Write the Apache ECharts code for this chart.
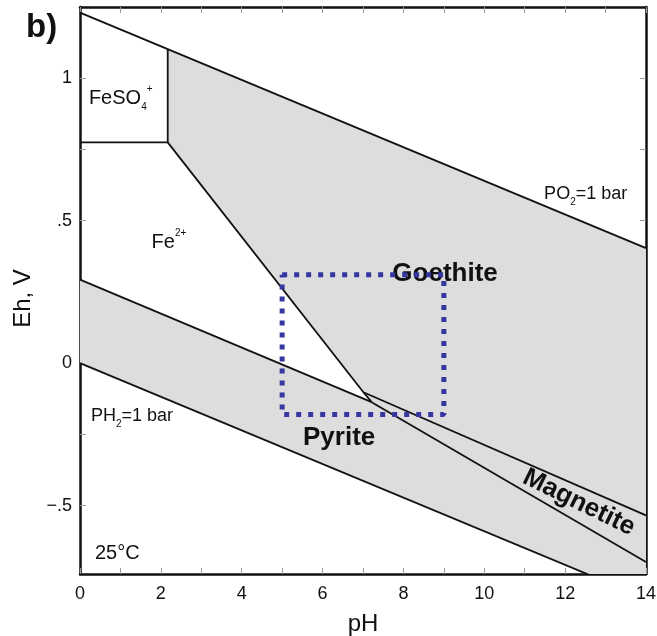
<!DOCTYPE html>
<html>
<head>
<meta charset="utf-8">
<script src="https://cdn.jsdelivr.net/npm/echarts@6/dist/echarts.min.js"></script>
<style>
  html, body { margin: 0; padding: 0; background: #fff; }
  #chart { width: 657px; height: 636px; }
</style>
</head>
<body>
<div id="chart"></div>
<script>
// axis ticks and labels
var phTicks = [0, 1, 2, 3, 4, 5, 6, 7, 8, 9, 10, 11, 12, 13, 14]
var phLabels = [0, 2, 4, 6, 8, 10, 12, 14]
var ehTicks = [-0.5, -0.25, 0, 0.25, 0.5, 0.75, 1]
var ehLabels = [-0.5, 0, 0.5, 1]

// field boundaries, [pH, Eh]
var o2Line = [[0, 1.23], [14, 0.404]]
var h2Line = [[0, 0], [14, -0.826]]
var feso4Edge = [[0, 0.775], [2.17, 0.775], [2.17, 1.102]]
var fe2GoethiteEdge = [[2.17, 0.775], [7.01, -0.102], [7.215, -0.137]]
var pyriteTop = [[0, 0.293], [7.215, -0.137]]
var magnetiteTop = [[7.01, -0.102], [14, -0.534]]
var magnetiteBottom = [[7.215, -0.137], [14, -0.698]]
// shaded (solid phases) area
var solidArea = [[2.17, 1.102], [14, 0.404], [14, -0.826], [0, 0], [0, 0.293], [7.215, -0.137], [2.17, 0.775]]
// dotted window
var windowBox = [[5, 0.31], [9, 0.31], [9, -0.18], [5, -0.18], [5, 0.31]]

// field labels
var labelAnchors = [
  { at: [0.22, 0.93], text: '{c|FeSO}{sub|4}{sup|+}', pos: 'right' },
  { at: [1.77, 0.425], text: '{c|Fe}{sup|2+}', pos: 'right' },
  { at: [11.48, 0.594], text: '{a|PO}{sub|2}{a|=1 bar}', pos: 'right' },
  { at: [0.27, -0.187], text: '{a|PH}{sub|2}{a|=1 bar}', pos: 'right' },
  { at: [0.37, -0.668], text: '{c|25°C}', pos: 'right' },
  { at: [9.03, 0.315], text: '{b|Goethite}', pos: 'inside' },
  { at: [6.41, -0.262], text: '{b|Pyrite}', pos: 'inside' },
  { at: [12.34, -0.489], text: '{b|Magnetite}', pos: 'inside', rotate: -26 }
]

var font = '"Liberation Sans", Arial, Helvetica, sans-serif'
var ink = '#111'

var richStyle = {
  a: { fontSize: 18, lineHeight: 26, color: ink, fontFamily: font },
  c: { fontSize: 20, lineHeight: 28, color: ink, fontFamily: font },
  sub: { fontSize: 10, lineHeight: 10, verticalAlign: 'bottom', color: ink, fontFamily: font },
  sup: { fontSize: 10, lineHeight: 14, verticalAlign: 'top', color: ink, fontFamily: font },
  b: { fontSize: 26, fontWeight: 'bold', color: ink, fontFamily: font }
}

var fmtEh = function(v) {
  if (v === 0) return '0'
  if (v === 1) return '1'
  if (v === 0.5) return '.5'
  if (v === -0.5) return '\u2212.5'
  return ''
}

var tickStyle = { show: true, inside: true, length: 6, lineStyle: { color: '#999', width: 1 } }
var frameLine = { show: true, onZero: false, lineStyle: { color: ink, width: 2.5 } }

var lineSeries = function(data) {
  return {
    type: 'line',
    data: data,
    symbol: 'none',
    silent: true,
    z: 3,
    lineStyle: { color: ink, width: 1.8 }
  }
}

var option = {
  animation: false,
  backgroundColor: '#fff',
  title: {
    text: 'b)',
    left: 26,
    top: 11,
    padding: 0,
    textStyle: { fontSize: 33, fontWeight: 'bold', color: ink, fontFamily: font }
  },
  grid: { left: 80, right: 11, top: 7, bottom: 62, outerBoundsMode: 'none', containLabel: false },
  xAxis: [{
    type: 'value', min: 0, max: 14, position: 'bottom',
    name: 'pH', nameLocation: 'middle', nameGap: 38,
    nameTextStyle: { fontSize: 24, color: ink, fontFamily: font },
    axisLine: frameLine,
    axisTick: Object.assign({ customValues: phTicks }, tickStyle),
    axisLabel: { customValues: phLabels, fontSize: 18, color: ink, fontFamily: font, margin: 11 },
    splitLine: { show: false }
  }, {
    type: 'value', min: 0, max: 14, position: 'top',
    axisLine: frameLine,
    axisTick: Object.assign({ customValues: phTicks }, tickStyle),
    axisLabel: { show: false },
    splitLine: { show: false }
  }],
  yAxis: [{
    type: 'value', min: -0.74, max: 1.25, position: 'left',
    name: 'Eh, V', nameLocation: 'middle', nameGap: 41,
    nameTextStyle: { fontSize: 24, color: ink, fontFamily: font, padding: [0, 16, 0, 0] },
    axisLine: frameLine,
    axisTick: Object.assign({ customValues: ehTicks }, tickStyle),
    axisLabel: { customValues: ehLabels, formatter: fmtEh, fontSize: 18, color: ink, fontFamily: font, margin: 8 },
    splitLine: { show: false }
  }, {
    type: 'value', min: -0.74, max: 1.25, position: 'right',
    axisLine: frameLine,
    axisTick: Object.assign({ customValues: ehTicks }, tickStyle),
    axisLabel: { show: false },
    splitLine: { show: false }
  }],
  series: [
    {
      type: 'custom',
      clip: true,
      silent: true,
      z: 1,
      data: solidArea,
      renderItem: function(params, api) {
        if (params.dataIndex !== 0) return
        return {
          type: 'polygon',
          shape: { points: solidArea.map(function(p) { return api.coord(p) }) },
          style: { fill: '#dddddd', stroke: null }
        }
      }
    },
    lineSeries(o2Line),
    lineSeries(h2Line),
    lineSeries(feso4Edge),
    lineSeries(fe2GoethiteEdge),
    lineSeries(pyriteTop),
    lineSeries(magnetiteTop),
    lineSeries(magnetiteBottom),
    {
      type: 'scatter',
      symbolSize: 0,
      silent: true,
      z: 4,
      data: labelAnchors.map(function(l) {
        return {
          value: l.at,
          label: {
            show: true,
            position: l.pos,
            distance: 0,
            rotate: l.rotate || 0,
            color: ink,
            opacity: 1,
            textBorderWidth: 0,
            formatter: l.text,
            rich: richStyle
          }
        }
      })
    },
    {
      type: 'line',
      data: windowBox,
      symbol: 'none',
      silent: true,
      z: 6,
      lineStyle: { color: '#3636a2', width: 5, type: [5, 7], cap: 'butt' }
    }
  ]
}

var chart = echarts.init(document.getElementById('chart'))
chart.setOption(option)
</script>
</body>
</html>
